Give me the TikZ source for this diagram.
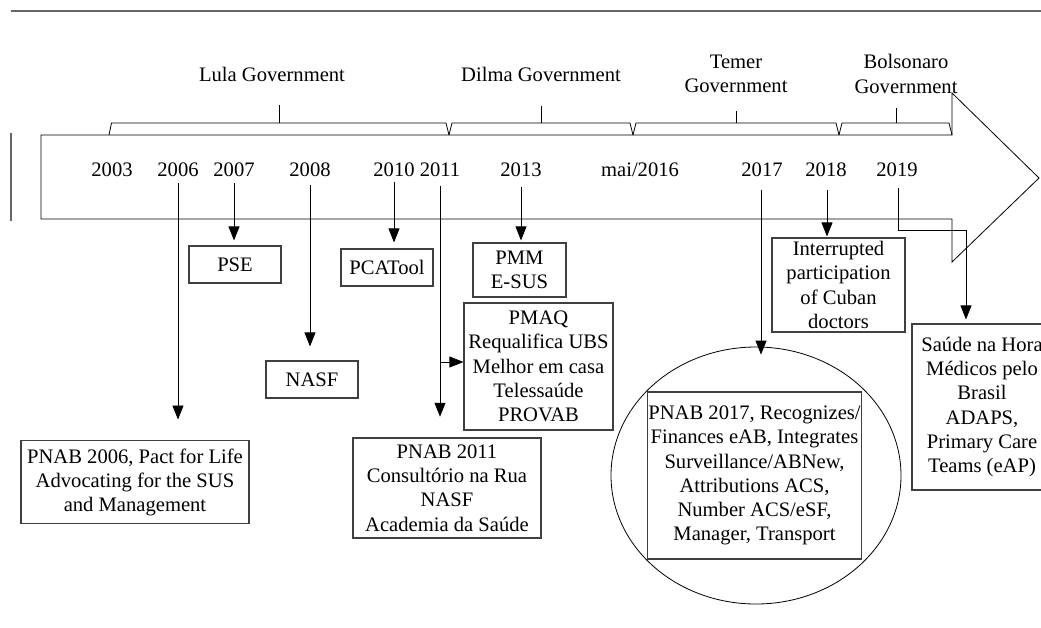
\documentclass[tikz,border=0pt]{standalone}
\usepackage{fontspec}
\setmainfont{Liberation Serif}
\usetikzlibrary{shapes.geometric,arrows.meta}
\begin{document}
\begin{tikzpicture}[x=1pt,y=-1pt,
  txt/.style={font=\fontsize{20.6}{24.2}\selectfont, inner sep=0pt, align=center},
  yr/.style={txt, anchor=base},
  bx/.style={txt, draw=black!75, line width=1.1pt},
  conn/.style={line width=0.8pt, black},
  arr/.style={conn, -{Triangle[length=14pt,width=11pt]}},
  frame/.style={line width=0.8pt, black},
  rule/.style={line width=1.3pt, black!60}]
\clip (0,0) rectangle (1041,627);
% page rules
\draw[rule] (11,11) -- (1041,11);
\draw[rule] (11,133) -- (11,221);
% big timeline arrow
\draw[frame] (41,135) -- (952,135) -- (952,93) -- (1039,178) -- (952,262) -- (952,219) -- (41,219) -- cycle;
% government labels
\node[yr] (lula) at (272,81.7) {Lula Government};
\node[yr] (dilma) at (541,81.7) {Dilma Government};
\node[txt] (temer) at (736,74) {Temer\\Government};
\node[txt] (bolso) at (906,74) {Bolsonaro\\Government};
% brackets
\draw[frame] (109,135) -- (111.5,123) -- (446,123) -- (449,135);
\draw[frame] (279,123) -- (279,105);
\draw[frame] (449,135) -- (452,123) -- (630,123) -- (633,135);
\draw[frame] (541,123) -- (541,106);
\draw[frame] (633,135) -- (636,123) -- (836,123) -- (839,135);
\draw[frame] (736,123) -- (736,111);
\draw[frame] (839,135) -- (842,123) -- (949,123) -- (952,135);
\draw[frame] (896,123) -- (896,108);
% years
\node[yr] (y2003) at (112,176) {2003};
\node[yr] (y2006) at (178,176) {2006};
\node[yr] (y2007) at (234,176) {2007};
\node[yr] (y2008) at (310,176) {2008};
\node[yr] (y2010) at (394,176) {2010};
\node[yr] (y2011) at (440,176) {2011};
\node[yr] (y2013) at (521,176) {2013};
\node[yr] (y2016) at (640,176) {mai/2016};
\node[yr] (y2017) at (762,176) {2017};
\node[yr] (y2018) at (826,176) {2018};
\node[yr] (y2019) at (897,176) {2019};
% boxes
\node[bx, minimum width=92pt, minimum height=37pt] (pse) at (235,264.5) {PSE};
\node[bx, minimum width=92pt, minimum height=37pt] (pcatool) at (387,267.5) {PCATool};
\node[bx, minimum width=92pt, minimum height=37pt] (nasf) at (312,379.5) {NASF};
\node[bx, minimum width=93pt, minimum height=54pt] (pmm) at (519.5,270) {PMM\\E-SUS};
\node[bx, minimum width=149pt, minimum height=127pt] (pmaq) at (538.5,366.5) {PMAQ\\Requalifica UBS\\Melhor em casa\\Telessaúde\\PROVAB};
\node[bx, minimum width=228pt, minimum height=83pt] (pnab06) at (135,482.3) {PNAB 2006, Pact for Life\\Advocating for the SUS\\and Management};
\node[bx, minimum width=188pt, minimum height=100pt] (pnab11) at (447,488) {PNAB 2011\\Consultório na Rua\\NASF\\Academia da Saúde};
\node[bx, minimum width=133pt, minimum height=94pt] (cuban) at (838.5,285) {Interrupted\\participation\\of Cuban\\doctors};
\node[bx, minimum width=140pt, minimum height=166pt] (saude) at (982,407) {Saúde na Hora\\Médicos pelo\\Brasil\\ADAPS,\\Primary Care\\Teams (eAP)};
\node[draw, ellipse, line width=0.8pt, inner sep=0pt, minimum width=290pt, minimum height=257pt] (circ) at (756,475.5) {};
\node[bx, minimum width=214pt, minimum height=167pt] (pnab17) at (754.5,475.5) {PNAB 2017, Recognizes/\\Finances eAB, Integrates\\Surveillance/ABNew,\\Attributions ACS,\\Number ACS/eSF,\\Manager, Transport};
% connectors
\draw[arr, shorten <=7pt, shorten >=20.7pt] (y2006.south) -- (y2006.south |- pnab06.north);
\draw[arr, shorten <=7pt, shorten >=5pt] (y2007.south) -- (y2007.south |- pse.north);
\draw[arr, shorten <=9pt, shorten >=14pt] (y2008.south) -- (y2008.south |- nasf.north);
\draw[arr, shorten <=6pt, shorten >=6pt] (y2010.south) -- (y2010.south |- pcatool.north);
\draw[arr, shorten <=10pt, shorten >=20.7pt] (y2011.south) -- (y2011.south |- pnab11.north);
\coordinate (b11) at (440,362);
\draw[arr] (b11) -- (b11 -| pmaq.west);
\draw[arr, shorten <=11pt, shorten >=2pt] (y2013.south) -- (y2013.south |- pmm.north);
\draw[arr, shorten <=14pt, shorten >=-8pt] ([xshift=-1pt]y2017.south) -- ([xshift=-1pt]y2017.south |- circ.north);
\draw[arr, shorten <=14pt, shorten >=1pt] ([xshift=1pt]y2018.south) -- ([xshift=1pt]y2018.south |- cuban.north);
\coordinate (c19a) at (898,230);
\coordinate (c19b) at (966,230);
\draw[arr, shorten >=4pt] ([xshift=1pt,yshift=-12pt]y2019.south) -- (c19a) -- (c19b) -- (c19b |- saude.north);
\end{tikzpicture}
\end{document}
